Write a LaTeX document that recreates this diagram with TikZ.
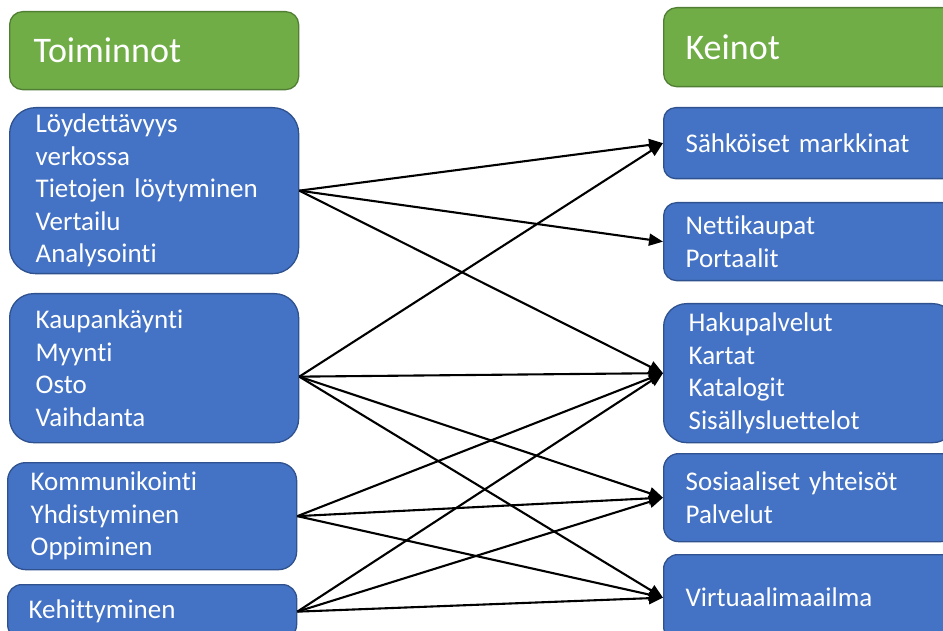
\documentclass[tikz,border=0pt]{standalone}
\usepackage{fontspec}
\setmainfont{Carlito}[Ligatures=CommonOff]
\usetikzlibrary{arrows.meta}
\definecolor{boxblue}{HTML}{4472C4}
\definecolor{boxblueline}{HTML}{2F528F}
\definecolor{boxgreen}{HTML}{70AD47}
\definecolor{boxgreenline}{HTML}{507E32}
\begin{document}
\begin{tikzpicture}[x=1pt,y=-1pt,
  box/.style={rounded corners=#1, line width=1.3pt, text=white, align=left,
    anchor=north west, inner ysep=0pt, font=\fontsize{27}{32.5}\selectfont},
  bluebox/.style={box=#1, draw=boxblueline, fill=boxblue},
  greenbox/.style={box=#1, draw=boxgreenline, fill=boxgreen, font=\fontsize{36}{40}\selectfont},
  link/.style={line width=2.1pt, -{Triangle[length=14pt,width=12pt]}}
]
\useasboundingbox (0,0) rectangle (943,631);
\clip (0,0) rectangle (943,631);
\node[greenbox=13pt, text width=241pt, inner xsep=24pt, minimum height=78pt] (T) at (9,11) {Toiminnot};
\node[greenbox=13pt, text width=248pt, inner xsep=22pt, minimum height=79pt] (K) at (663,7) {Keinot};
\node[bluebox=26pt, text width=237pt, inner xsep=26pt, minimum height=166pt] (L1) at (9,107) {Löydettävyys\\verkossa\\Tietojen löytyminen\\Vertailu\\Analysointi};
\node[bluebox=24pt, text width=237pt, inner xsep=26pt, minimum height=149pt] (L2) at (9,293) {Kaupankäynti\\Myynti\\Osto\\Vaihdanta};
\node[bluebox=18pt, text width=243pt, inner xsep=23pt, minimum height=107pt] (L3) at (7,462) {Kommunikointi\\Yhdistyminen\\Oppiminen};
\node[bluebox=14pt, text width=247pt, inner xsep=21pt, minimum height=54pt] (L4) at (7,584) {Kehittyminen};
\node[bluebox=12pt, text width=248pt, inner xsep=22pt, minimum height=71pt] (R1) at (663,107) {Sähköiset markkinat};
\node[bluebox=13pt, text width=248pt, inner xsep=22pt, minimum height=78pt] (R2) at (663,202) {Nettikaupat\\Portaalit};
\node[bluebox=23pt, text width=242pt, inner xsep=25pt, minimum height=139pt] (R3) at (663,303) {Hakupalvelut\\Kartat\\Katalogit\\Sisällysluettelot};
\node[bluebox=15pt, text width=248pt, inner xsep=22pt, minimum height=88pt] (R4) at (663,453) {Sosiaaliset yhteisöt\\Palvelut};
\node[bluebox=14pt, text width=248pt, inner xsep=22pt, minimum height=86pt] (R5) at (663,554) {Virtuaalimaailma};
\draw[link] (L1.east) -- (R1.west);
\draw[link] (L1.east) -- (R2.west);
\draw[link] (L1.east) -- (R3.west);
\draw[link] ([yshift=-8.5pt]L2.east) -- (R1.west);
\draw[link] ([yshift=-8.5pt]L2.east) -- (R3.west);
\draw[link] ([yshift=-8.5pt]L2.east) -- (R4.west);
\draw[link] ([yshift=-8.5pt]L2.east) -- (R5.west);
\draw[link] (L3.east) -- (R3.west);
\draw[link] (L3.east) -- (R4.west);
\draw[link] (L3.east) -- (R5.west);
\draw[link] (L4.east) -- (R3.west);
\draw[link] (L4.east) -- (R4.west);
\draw[link] (L4.east) -- (R5.west);
\end{tikzpicture}
\end{document}
